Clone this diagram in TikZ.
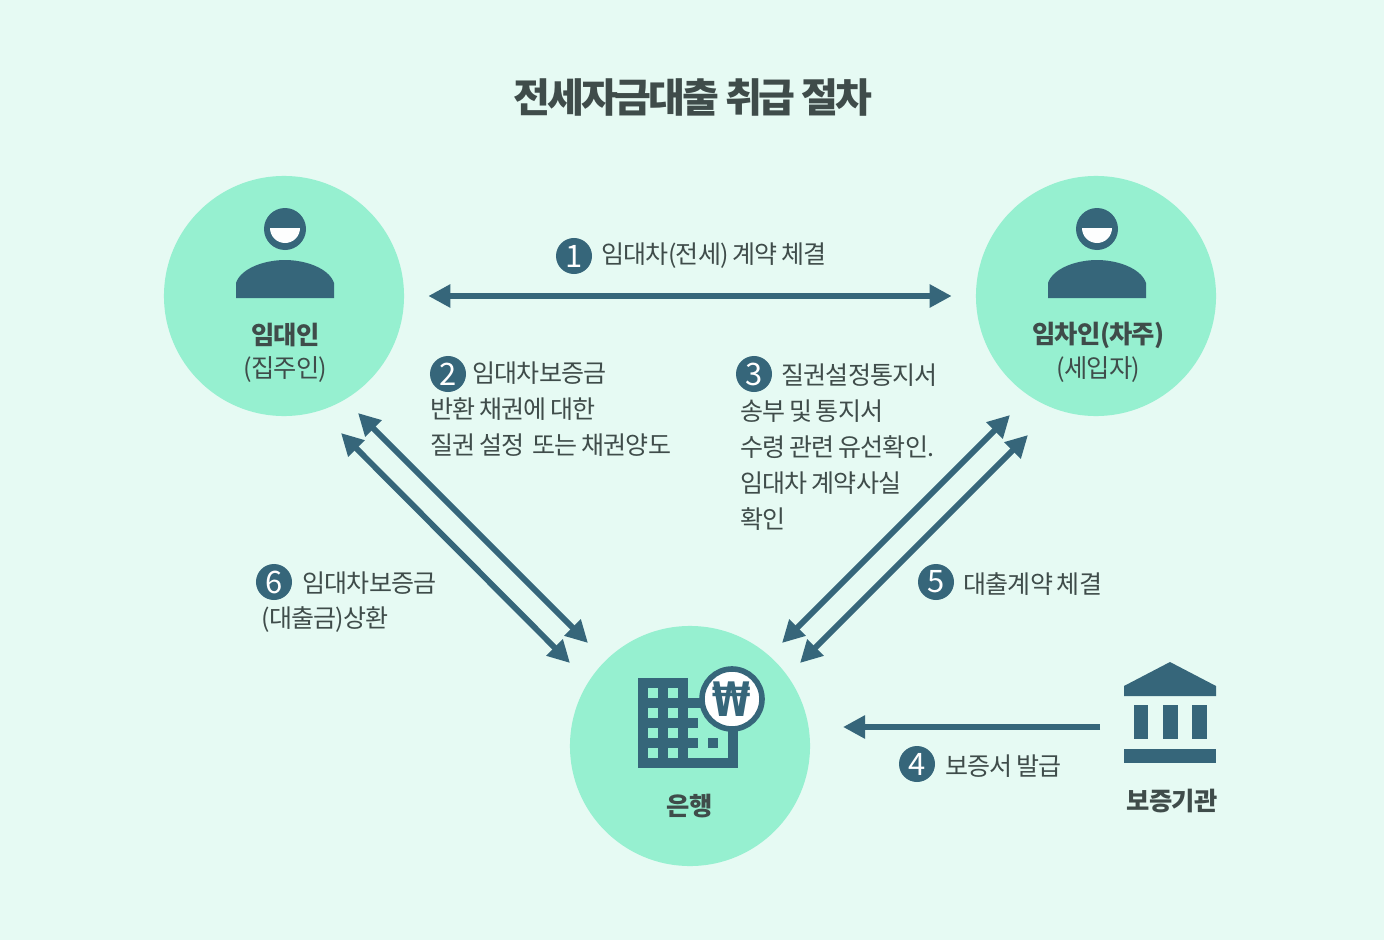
\documentclass[tikz,border=0pt]{standalone}
\usepackage{fontspec}
\setmainfont[LetterSpace=-3, WordSpace=0.75]{Noto Sans CJK KR}
\newfontfamily\titlefont[LetterSpace=-8]{Noto Sans CJK KR}
\newfontfamily\wonfont{DejaVu Sans}
\usepackage{tikz}
\usetikzlibrary{arrows.meta}
\definecolor{PageMint}{HTML}{E6FAF3}
\definecolor{CircleMint}{HTML}{96F0D0}
\definecolor{IconTeal}{HTML}{36667A}
\definecolor{InkGrey}{HTML}{3F4C4A}
\tikzset{
    party/.style={circle, fill=CircleMint, minimum size=6cm, inner sep=0pt},
    flow/.style={{Triangle[length=0.55cm, width=0.55cm]}-{Triangle[length=0.55cm, width=0.55cm]}, line width=0.145cm, IconTeal},
    oneway/.style={-{Triangle[length=0.55cm, width=0.55cm]}, line width=0.145cm, IconTeal},
    stepnum/.style={circle, fill=IconTeal, text=white, minimum size=0.9cm, inner sep=0pt, font=\fontsize{22}{22}\selectfont},
    note/.style={anchor=west, inner sep=0pt, align=left, text=InkGrey, font=\fontsize{17.8}{25.6}\selectfont},
    partyname/.style={inner sep=0pt, text=InkGrey, font=\fontsize{18}{18}\selectfont\bfseries},
    partysub/.style={inner sep=0pt, text=InkGrey, font=\fontsize{18}{18}\selectfont},
}
\begin{document}
\begin{tikzpicture}[x=0.025cm, y=-0.025cm]
    \fill[PageMint] (0,0) rectangle (1384,940);
    \useasboundingbox (0,0) rectangle (1384,940);
    % Title
    \node[inner sep=0pt, text=InkGrey, font=\titlefont\fontsize{28.5}{29}\selectfont\bfseries] (title) at (693,97) {전세자금대출 취급 절차};
    % Circles
    \node[party] (lessor) at (284,296) {};
    \node[party] (lessee) at (1096,296) {};
    \node[party] (bank) at (690,746) {};
    % Reference coordinates
    \coordinate (lessorA) at ([shift={(74,117)}]lessor.center);
    \coordinate (lessorB) at ([shift={(57,137)}]lessor.center);
    \coordinate (bankA) at ([shift={(-102,-103)}]bank.center);
    \coordinate (bankB) at ([shift={(-120,-83)}]bank.center);
    \coordinate (lesseeA) at ([shift={(-86,119)}]lessee.center);
    \coordinate (lesseeB) at ([shift={(-68,139)}]lessee.center);
    \coordinate (bankC) at ([shift={(92,-103)}]bank.center);
    \coordinate (bankD) at ([shift={(110,-83)}]bank.center);
    \coordinate (guarantor) at (1100,727);
    \coordinate (bankE) at ([shift={(153,-19)}]bank.center);
    % Person icons
    \foreach \who/\cx in {lessor/285, lessee/1097} {
        \fill[IconTeal] (\cx,229) circle (21);
        \fill[white!92!PageMint] (\cx-15,228) arc[start angle=180, end angle=0, radius=15] -- cycle;
        \fill[IconTeal] (\cx-49,298) -- (\cx-49,283) .. controls (\cx-44,268) and (\cx-20,260) .. (\cx,260) .. controls (\cx+20,260) and (\cx+44,268) .. (\cx+49,283) -- (\cx+49,298) -- cycle;
    }
    % Building icon
    \fill[IconTeal] (638,678) rectangle (688,698);
    \fill[IconTeal] (638,698) rectangle (738,768);
    \foreach \wx in {648,668} \foreach \wy in {688,708,728,748} {
        \fill[CircleMint] (\wx,\wy) rectangle (\wx+10,\wy+10);
    }
    \fill[CircleMint] (688,708) rectangle (728,758);
    \fill[IconTeal] (688,718) rectangle (698,728);
    \fill[IconTeal] (688,738) rectangle (698,748);
    \fill[IconTeal] (708,738) rectangle (718,748);
    \node[circle, draw=IconTeal, line width=0.14cm, fill=white, minimum size=1.5cm, inner sep=0pt, text=IconTeal, font=\wonfont\fontsize{26}{26}\selectfont\bfseries] (won) at (732,699) {\raisebox{-2pt}{\scalebox{0.95}[1.3]{₩}}};
    % Bank icon
    \fill[IconTeal] (1170,662) -- (1216,686) -- (1216,696) -- (1124,696) -- (1124,686) -- cycle;
    \foreach \px in {1133.5,1163,1192} {
        \fill[IconTeal] (\px,705) rectangle (\px+14.5,739);
    }
    \fill[IconTeal] (1124,749) rectangle (1216,763);
    % Names
    \node[partyname] (lessorname) at (285.5,335) {임대인};
    \node[partysub] (lessorsub) at (285.5,370) {(집주인)};
    \node[partyname] (lesseename) at (1098.5,335) {임차인(차주)};
    \node[partysub] (lesseesub) at (1098.5,370) {(세입자)};
    \node[partyname] (bankname) at (689.5,806) {은행};
    \node[partyname] (guarantorname) at (1172,801) {보증기관};
    % Arrows
    \draw[flow, shorten <=0.6cm, shorten >=0.6cm] (lessor) -- (lessee);
    \draw[flow] (lessorA) -- (bankA);
    \draw[flow] (lessorB) -- (bankB);
    \draw[flow] (lesseeA) -- (bankC);
    \draw[flow] (lesseeB) -- (bankD);
    \draw[oneway] (guarantor) -- (bankE);
    % Step numbers
    \node[stepnum] (one) at (574,256) {1};
    \node[stepnum] (two) at (448,374) {2};
    \node[stepnum] (three) at (754,374) {3};
    \node[stepnum] (four) at (917,764) {4};
    \node[stepnum] (five) at (936,582) {5};
    \node[stepnum] (six) at (274,582) {6};
    % Step notes
    \node[note] (noteone) at (601,255.5) {임대차(전세) 계약 체결};
    \node[note] (notetwo) at (472,373) {임대차보증금};
    \node[note] (notetwob) at (430,427) {반환 채권에 대한\\질권 설정\hspace{3pt} 또는 채권양도};
    \node[note] (notethree) at (781,375) {질권설정통지서};
    \node[note] (notethreeb) at (740,465) {송부 및 통지서\\수령 관련 유선확인.\\임대차 계약사실\\확인};
    \node[note] (notefour) at (945,766.5) {보증서 발급};
    \node[note] (notefive) at (963,584.5) {대출계약 체결};
    \node[note] (notesix) at (302,583) {임대차보증금};
    \node[note] (notesixb) at (261,620) {(대출금)상환};
\end{tikzpicture}
\end{document}
